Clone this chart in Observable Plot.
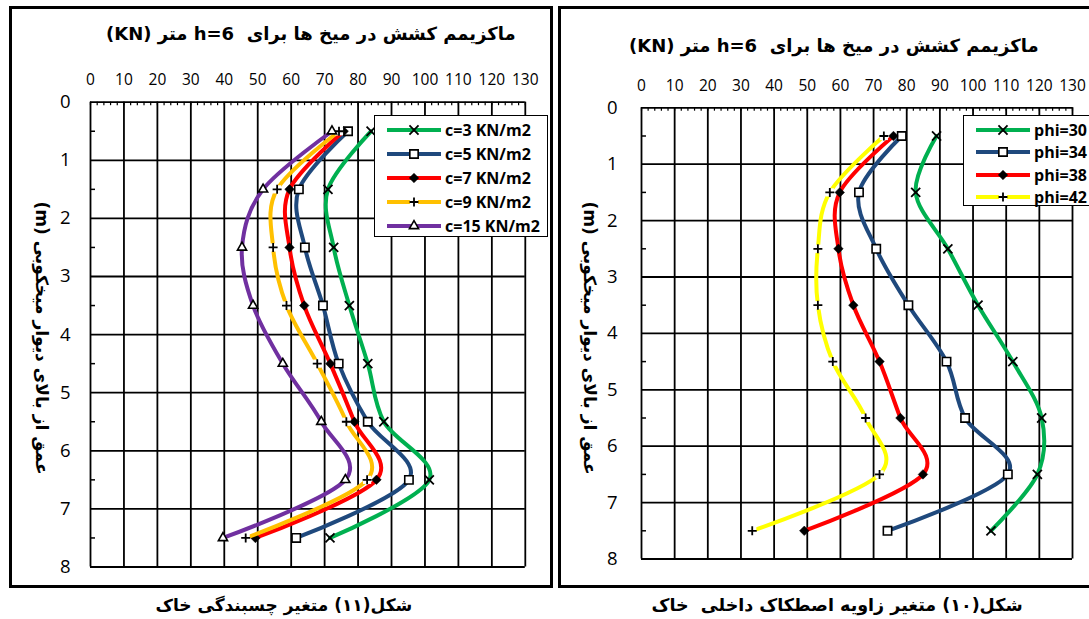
<!DOCTYPE html>
<html>
<head>
<meta charset="utf-8">
<script src="https://cdn.jsdelivr.net/npm/d3@7"></script>
<script src="https://cdn.jsdelivr.net/npm/@observablehq/plot@0.6"></script>
<style>
  html, body { margin: 0; padding: 0; background: #fff; }
  body { position: relative; width: 1089px; height: 619px; overflow: hidden; font-family: "Open Sans", sans-serif; }
  .frame { position: absolute; border: 3px solid #000; box-sizing: border-box; pointer-events: none; z-index: 5; }
  .title, .caption { position: absolute; font-family: "DejaVu Sans", sans-serif; font-weight: bold; white-space: pre; direction: rtl; }
  .title { font-size: 18px; }
  .caption { font-size: 17px; }
  .ylabel { position: absolute; font-family: "DejaVu Sans", sans-serif; font-weight: bold; font-size: 17px; white-space: nowrap; direction: rtl;
            transform-origin: center center; }
  .legend { position: absolute; background: #fff; border: 1.5px solid #000; box-sizing: border-box; z-index: 4; padding: 0; }
  .legend .row { position: absolute; left: 0; display: flex; align-items: center; font-family: "Open Sans", sans-serif; font-weight: bold; font-size: 16px; white-space: nowrap; }
  .legend svg { display: block; margin-right: 4px; }
</style>
</head>
<body>
<script>
// Depth of each nail row below the top of the wall (m)
const depths = [0.5, 1.5, 2.5, 3.5, 4.5, 5.5, 6.5, 7.5];

// Axis ticks
const xTicks = [0, 10, 20, 30, 40, 50, 60, 70, 80, 90, 100, 110, 120, 130];
const yTicks = [0, 1, 2, 3, 4, 5, 6, 7, 8];

// Figure 11: soil cohesion varies — maximum nail tension (KN)
const cLabels = ["c=3 KN/m2", "c=5 KN/m2", "c=7 KN/m2", "c=9 KN/m2", "c=15 KN/m2"];
const c3  = [83.9, 71.0, 72.7, 77.4, 82.9, 87.7, 101.3, 71.6];
const c5  = [77.0, 62.3, 64.1, 69.5, 74.2, 82.9, 95.2, 61.5];
const c7  = [75.7, 59.5, 59.5, 63.9, 71.7, 78.9, 85.5, 49.3];
const c9  = [74.3, 55.8, 54.6, 58.6, 67.8, 76.5, 82.7, 46.4];
const c15 = [72.2, 51.6, 45.3, 48.6, 57.5, 69.0, 76.2, 39.6];

// Figure 10: internal friction angle varies — maximum nail tension (KN)
const phiLabels = ["phi=30", "phi=34", "phi=38", "phi=42"];
const phi30 = [89.0, 82.7, 92.4, 101.5, 112.0, 120.7, 119.4, 105.4];
const phi34 = [78.5, 65.6, 70.8, 80.5, 92.0, 97.6, 110.5, 74.2];
const phi38 = [76.0, 59.8, 59.4, 63.9, 71.8, 78.1, 84.9, 49.1];
const phi42 = [73.1, 56.8, 53.2, 53.2, 57.7, 67.6, 71.8, 33.4];

const titleText = "ماکزیمم کشش در میخ ها برای  h=6 متر (KN)";
const yLabelText = "عمق از بالای دیوار میخکوبی (m)";
const captionLeft = "شکل(۱۱) متغیر چسبندگی خاک";
const captionRight = "شکل(۱۰) متغیر زاویه اصطکاک داخلی  خاک";

// ---- styling ----
const markers = {
  times:    {symbol: "times",    fill: "none", stroke: "#000", strokeWidth: 1.8, r: 4.2, d3: d3.symbolTimes},
  square:   {symbol: "square",   fill: "#fff", stroke: "#000", strokeWidth: 1.6, r: 4.7, d3: d3.symbolSquare},
  diamond2: {symbol: "diamond2", fill: "#000", stroke: "#000", strokeWidth: 0.5, r: 4.3, d3: d3.symbolDiamond2},
  plus:     {symbol: "plus",     fill: "none", stroke: "#000", strokeWidth: 1.8, r: 3.0, d3: d3.symbolPlus},
  triangle: {symbol: "triangle", fill: "#fff", stroke: "#000", strokeWidth: 1.6, r: 3.4, d3: d3.symbolTriangle}
};

const leftSeries = [
  {name: cLabels[0], values: c3,  color: "#00B050", marker: "times"},
  {name: cLabels[1], values: c5,  color: "#1F497D", marker: "square"},
  {name: cLabels[2], values: c7,  color: "#FF0000", marker: "diamond2"},
  {name: cLabels[3], values: c9,  color: "#FFC000", marker: "plus"},
  {name: cLabels[4], values: c15, color: "#7030A0", marker: "triangle"}
];
const rightSeries = [
  {name: phiLabels[0], values: phi30, color: "#00B050", marker: "times"},
  {name: phiLabels[1], values: phi34, color: "#1F497D", marker: "square"},
  {name: phiLabels[2], values: phi38, color: "#FF0000", marker: "diamond2"},
  {name: phiLabels[3], values: phi42, color: "#FFFF00", marker: "plus"}
];

// Excel-style smoothing (uniform Catmull–Rom)
const smooth = d3.curveCardinal.tension(0);

function rows(series) {
  return depths.map((d, i) => ({depth: d, value: series.values[i], series: series.name}));
}

function panel(seriesList, {width, height, marginLeft, marginRight, marginTop, marginBottom, xPad, yPad}) {
  const marks = [
    Plot.ruleX(xTicks, {stroke: "#000", strokeWidth: 1.8}),
    Plot.ruleY(yTicks, {stroke: "#000", strokeWidth: 1.8}),
    Plot.ruleX(d3.range(0, 131, 2), {y1: 0, y2: 0.06, stroke: "#000", strokeWidth: 1.2}),
    Plot.ruleY(depths, {x1: 0, x2: 1.5, stroke: "#000", strokeWidth: 1.5}),
    Plot.axisX({anchor: "top", ticks: xTicks, tickSize: 0, tickPadding: xPad, fontSize: 15.5, label: null}),
    Plot.axisY({anchor: "left", ticks: yTicks, tickSize: 0, tickPadding: yPad, fontSize: 18.5, label: null})
  ];
  for (const s of seriesList) {
    marks.push(Plot.line(rows(s), {x: "value", y: "depth", stroke: s.color, strokeWidth: 4, curve: smooth}));
    const m = markers[s.marker];
    if (s.marker === "plus") {
      marks.push(Plot.dot(rows(s), {x: "value", y: "depth", symbol: "square", r: 4.6, fill: "#fff", stroke: "none"}));
    }
    marks.push(Plot.dot(rows(s), {x: "value", y: "depth", symbol: m.symbol, r: m.r, fill: m.fill, stroke: m.stroke, strokeWidth: m.strokeWidth}));
  }
  return Plot.plot({
    width, height, marginLeft, marginRight, marginTop, marginBottom,
    style: {background: "transparent", fontFamily: "'Open Sans', sans-serif", color: "#000", overflow: "visible"},
    x: {domain: [0, 130]},
    y: {domain: [0, 8], reverse: true},
    marks
  });
}

function place(el, left, top) {
  el.style.position = "absolute";
  el.style.left = left + "px";
  el.style.top = top + "px";
  document.body.appendChild(el);
  return el;
}

function legend(seriesList, {left, top, width, height, rowTops, lineW}) {
  const box = document.createElement("div");
  box.className = "legend";
  Object.assign(box.style, {left: left + "px", top: top + "px", width: width + "px", height: height + "px"});
  seriesList.forEach((s, i) => {
    const row = document.createElement("div");
    row.className = "row";
    row.style.top = rowTops[i] + "px";
    row.style.left = "12px";
    const svg = d3.create("svg").attr("width", lineW).attr("height", 16);
    svg.append("line").attr("x1", 0).attr("x2", lineW).attr("y1", 8).attr("y2", 8)
      .attr("stroke", s.color).attr("stroke-width", 4);
    const m = markers[s.marker];
    if (s.marker === "plus") {
      svg.append("path").attr("transform", `translate(${lineW / 2},8)`)
        .attr("d", d3.symbol(d3.symbolSquare, Math.PI * 4.6 * 4.6)()).attr("fill", "#fff");
    }
    svg.append("path").attr("transform", `translate(${lineW / 2},8)`)
      .attr("d", d3.symbol(m.d3, Math.PI * m.r * m.r)())
      .attr("fill", m.fill).attr("stroke", m.stroke).attr("stroke-width", m.strokeWidth);
    row.appendChild(svg.node());
    const t = document.createElement("span");
    t.textContent = s.name;
    row.appendChild(t);
    box.appendChild(row);
  });
  document.body.appendChild(box);
}

// centred text block at (cx, cy)
function text(cls, str, cx, cy, size) {
  const el = document.createElement("div");
  el.className = cls;
  el.textContent = str;
  if (size) el.style.fontSize = size + "px";
  document.body.appendChild(el);
  const w = el.offsetWidth, h = el.offsetHeight;
  el.style.left = (cx - w / 2) + "px";
  el.style.top = (cy - h / 2) + "px";
  return el;
}

// ---- left panel (cohesion) ----
place(panel(leftSeries, {width: 560, height: 600, marginLeft: 90, marginRight: 35.2, marginTop: 101.7, marginBottom: 33.5, xPad: 17, yPad: 20}), 0, 0);
legend(leftSeries, {left: 374, top: 115, width: 174, height: 122, rowTops: [3, 27, 51, 75, 99], lineW: 54});

// ---- right panel (friction angle) ----
place(panel(rightSeries, {width: 529, height: 600, marginLeft: 81, marginRight: 17, marginTop: 107.3, marginBottom: 41.5, xPad: 17, yPad: 24}), 560, 0);
legend(rightSeries, {left: 963, top: 115, width: 140, height: 91, rowTops: [3, 25, 48, 70], lineW: 54});

// frames
const f1 = document.createElement("div"); f1.className = "frame";
Object.assign(f1.style, {left: "9px", top: "6px", width: "544px", height: "582px"});
document.body.appendChild(f1);
const f2 = document.createElement("div"); f2.className = "frame";
Object.assign(f2.style, {left: "558px", top: "6px", width: "545px", height: "582px"});
document.body.appendChild(f2);

// titles, captions
text("title", titleText, 311, 33);
text("title", titleText, 834, 45);
text("caption", captionLeft, 284, 605);
text("caption", captionRight, 837, 605, 17.5);

// rotated y-axis titles
text("ylabel", yLabelText, 41, 338).style.transform = "rotate(90deg)";
text("ylabel", yLabelText, 589, 338).style.transform = "rotate(90deg)";
</script>
</body>
</html>
